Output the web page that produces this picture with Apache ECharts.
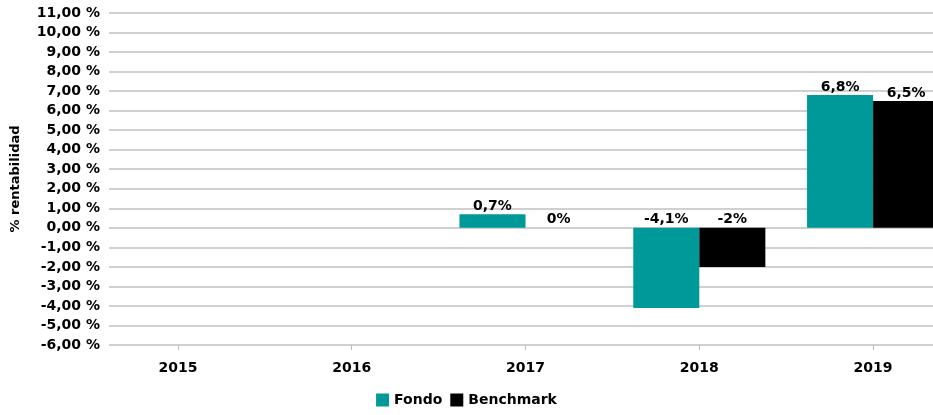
<!DOCTYPE html>
<html>
<head>
<meta charset="utf-8">
<script src="https://cdn.jsdelivr.net/npm/echarts@6/dist/echarts.min.js"></script>
<style>
html,body{margin:0;padding:0;background:#fff;}
#c{width:933px;height:415px;}
</style>
</head>
<body>
<div id="c"></div>
<script>
const categories = ['2015', '2016', '2017', '2018', '2019'];
const fondo = [null, null, 0.7, -4.1, 6.8];
const benchmark = [null, null, 0, -2, 6.5];
const seriesNames = ['Fondo', 'Benchmark'];
const yMin = -6, yMax = 11, yStep = 1;
const yAxisTitle = '% rentabilidad';

const FONT = 'DejaVu Sans';
const chart = echarts.init(document.getElementById('c'));
const fmtPct = v => String(v).replace('.', ',') + '%';
const barLabel = {
  show: true, position: 'top', distance: 1,
  color: '#000', fontFamily: FONT, fontWeight: 'bold', fontSize: 14,
  formatter: p => fmtPct(p.value)
};
chart.setOption({
  animation: false,
  backgroundColor: '#fff',
  grid: [
    {left: 109, width: 824, top: 13, height: 332, containLabel: false, outerBoundsMode: 'none'},
    {left: 91, width: 869, top: 13, height: 332, containLabel: false, outerBoundsMode: 'none'}
  ],
  xAxis: [
    {gridIndex: 0, type: 'category', data: categories, show: false},
    {gridIndex: 1, type: 'category', data: categories,
     axisLine: {show: false, onZero: false},
     axisTick: {show: true, alignWithLabel: true, length: 5, lineStyle: {color: '#bbbbbb'}},
     axisLabel: {margin: 16, color: '#000', fontFamily: FONT, fontWeight: 'bold', fontSize: 14}}
  ],
  yAxis: [
    {gridIndex: 0, type: 'value', min: yMin, max: yMax, interval: yStep,
     name: yAxisTitle, nameLocation: 'middle', nameGap: 87,
     nameTextStyle: {color: '#000', fontFamily: FONT, fontWeight: 'bold', fontSize: 13},
     axisLine: {show: false}, axisTick: {show: false},
     axisLabel: {margin: 9, color: '#000', fontFamily: FONT, fontWeight: 'bold', fontSize: 14,
       formatter: v => v.toFixed(2).replace('.', ',') + ' %'},
     splitLine: {show: true, lineStyle: {color: '#d0d0d0', width: 2}}},
    {gridIndex: 1, type: 'value', min: yMin, max: yMax, interval: yStep, show: false,
     splitLine: {show: false}}
  ],
  legend: {
    bottom: 3, left: 'center', itemWidth: 13, itemHeight: 13, itemGap: 8,
    icon: 'rect',
    textStyle: {color: '#000', fontFamily: FONT, fontWeight: 'bold', fontSize: 14},
    data: seriesNames
  },
  series: [
    {name: seriesNames[0], type: 'bar', xAxisIndex: 1, yAxisIndex: 1, data: fondo,
     barGap: '0%', barCategoryGap: '24%', itemStyle: {color: '#009999'}, label: barLabel},
    {name: seriesNames[1], type: 'bar', xAxisIndex: 1, yAxisIndex: 1, data: benchmark,
     barGap: '0%', barCategoryGap: '24%', itemStyle: {color: '#000000'}, label: barLabel}
  ]
});
</script>
</body>
</html>
